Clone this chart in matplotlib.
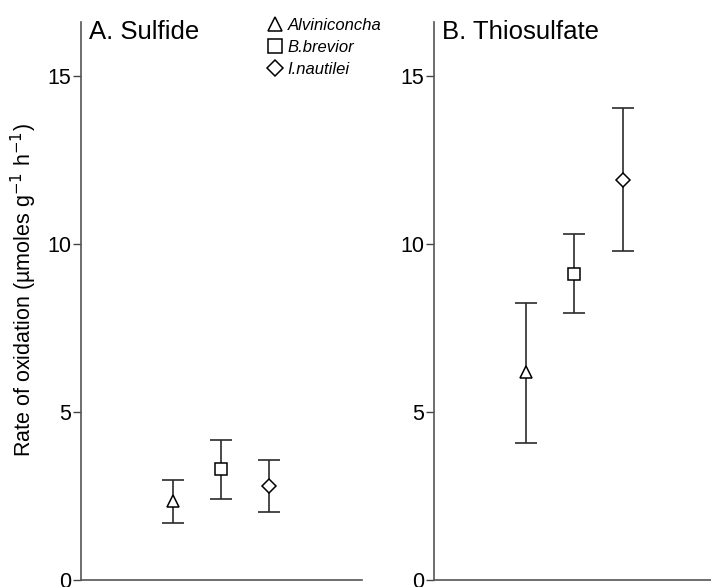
import matplotlib.pyplot as plt
from matplotlib.lines import Line2D

plt.rcParams["font.family"] = ["Liberation Sans", "DejaVu Sans"]

# species order and markers
species = ["Alviniconcha", "B.brevior", "I.nautilei"]
markers = ["^", "s", "D"]
xpos = [1, 2, 3]

# mean rates and error bar limits (umoles g-1 h-1)
sulfide_mean = [2.35, 3.29, 2.80]
sulfide_low = [1.71, 2.41, 2.03]
sulfide_high = [2.98, 4.16, 3.56]

thio_mean = [6.20, 9.10, 11.91]
thio_low = [4.09, 7.94, 9.80]
thio_high = [8.24, 10.29, 14.05]

fig = plt.figure(figsize=(7.11, 5.87), dpi=100)
ax1 = fig.add_axes([0.1139, 0.0119, 0.395, 0.9506])
ax2 = fig.add_axes([0.6104, 0.0119, 0.3896, 0.9506])

panels = [
    (ax1, "A. Sulfide", sulfide_mean, sulfide_low, sulfide_high, 4.93),
    (ax2, "B. Thiosulfate", thio_mean, thio_low, thio_high, 4.84),
]

for ax, title, mean, low, high, xmax in panels:
    for x, m, lo, hi, mk in zip(xpos, mean, low, high, markers):
        ax.errorbar(x, m, yerr=[[m - lo], [hi - m]], fmt="none",
                    ecolor="#2b2b2b", elinewidth=1.2, capsize=8, capthick=1.2, zorder=2)
        ax.plot(x, m, marker=mk, markersize=9 if mk != "D" else 7.5,
                mfc="white", mec="black", mew=1.1, ls="none", zorder=3)
    ax.set_xlim(-0.92, xmax)
    ax.set_ylim(0, 16.6)
    ax.set_yticks([0, 5, 10, 15])
    ax.set_xticks([])
    ax.tick_params(axis="y", direction="out", length=6, width=1.0,
                   labelsize=15.5, pad=1, color="#444444")
    for side in ["top", "right"]:
        ax.spines[side].set_visible(False)
    for side in ["left", "bottom"]:
        ax.spines[side].set_color("#555555")
        ax.spines[side].set_linewidth(1.2)
    ax.text(0.03, 1.003, title, transform=ax.transAxes, fontsize=18.5,
            ha="left", va="top")

ax1.set_ylabel("Rate of oxidation (µmoles g$^{-1}$ h$^{-1}$)", fontsize=15.5)
ax1.yaxis.set_label_coords(-0.15, 0.52)

handles = [Line2D([], [], marker=mk, ls="none", mfc="white", mec="black",
                  mew=1.1, markersize=10 if mk != "D" else 8.5) for mk in markers]
leg = ax1.legend(handles, species, loc="upper left", bbox_to_anchor=(0.64, 1.02),
                 frameon=False, fontsize=12, handlelength=0.9, handletextpad=0.3,
                 labelspacing=0.42, borderaxespad=0)
for t in leg.get_texts():
    t.set_fontstyle("italic")

fig.savefig("out.png", dpi=100)
